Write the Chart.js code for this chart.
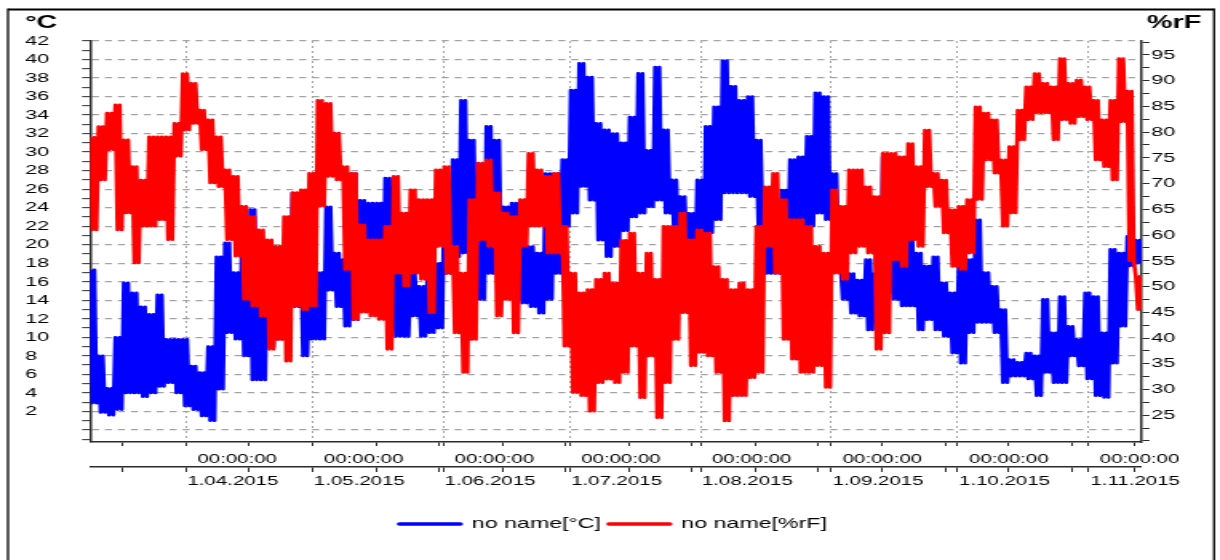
<!DOCTYPE html>
<html>
<head>
<meta charset="utf-8">
<title>no name [°C] / no name [%rF]</title>
<script src="https://cdn.jsdelivr.net/npm/chart.js@4.4.1/dist/chart.umd.min.js"></script>
<style>
  html, body { margin: 0; padding: 0; background: #ffffff; overflow: hidden; }
  #stage { width: 763px; height: 560px; transform: scaleX(1.598952); transform-origin: 0 0; }
  #chart { display: block; }
</style>
</head>
<body>
<div id="stage"><canvas id="chart" width="763" height="560"></canvas></div>
<script>
// Days are counted from 1 March 2015 (= day 0). Each value is the daily maximum /
// minimum for a 2-day block (both days of the block share it),
// block k starting at day blockStartDay + 2k.
const blockStartDay = 8;
const blockLength = 2;

const tempHigh = [
  17.3, 8.0, 4.5, 10.0, 15.9, 14.8, 13.3, 12.5, 14.6, 9.8,
  9.8, 9.8, 6.9, 6.2, 9.0, 18.7, 20.2, 17.0, 20.0, 23.8,
  13.3, 19.8, 19.1, 19.1, 25.6, 19.1, 16.2, 17.0, 24.1, 19.1,
  18.4, 27.7, 24.8, 24.5, 24.5, 27.2, 17.5, 16.9, 16.9, 15.5,
  16.9, 18.0, 26.3, 29.2, 35.6, 31.3, 20.5, 32.8, 31.3, 24.1,
  24.5, 19.8, 19.8, 19.1, 27.7, 27.7, 29.2, 36.7, 39.6, 38.1,
  33.1, 32.4, 32.0, 31.0, 33.8, 38.5, 30.2, 39.2, 32.4, 27.0,
  25.2, 23.4, 27.0, 32.8, 34.9, 39.9, 37.1, 35.6, 36.0, 31.3,
  22.0, 20.5, 25.9, 29.2, 29.5, 31.7, 36.4, 36.0, 27.7, 17.7,
  16.9, 16.2, 18.4, 16.9, 29.5, 19.5, 18.7, 20.5, 19.1, 17.7,
  18.7, 15.9, 14.8, 17.7, 18.4, 22.7, 17.0, 15.5, 13.0, 7.6,
  7.3, 8.3, 8.0, 14.1, 10.5, 14.4, 11.2, 9.8, 14.8, 14.4,
  10.5, 19.5, 19.1, 20.9, 20.5
];
const tempLow = [
  2.9, 1.9, 1.6, 2.2, 4.0, 4.0, 3.6, 4.0, 4.7, 5.1,
  4.0, 2.6, 2.2, 1.5, 1.0, 4.4, 10.5, 9.8, 8.0, 5.4,
  5.4, 9.0, 9.8, 12.3, 13.3, 8.0, 9.8, 9.8, 15.1, 13.3,
  11.2, 11.9, 14.0, 15.0, 14.0, 15.0, 10.1, 10.1, 12.3, 10.1,
  10.5, 11.0, 16.9, 18.7, 19.1, 16.2, 14.1, 16.9, 18.0, 16.9,
  14.1, 13.7, 13.3, 12.6, 14.1, 16.9, 22.0, 23.4, 26.3, 24.8,
  20.5, 18.7, 19.8, 21.5, 23.0, 23.4, 24.1, 24.8, 23.4, 21.3,
  19.1, 16.9, 17.3, 21.3, 22.7, 25.6, 25.6, 25.6, 25.2, 22.0,
  16.9, 16.9, 17.7, 20.5, 21.3, 22.0, 23.4, 22.7, 17.7, 14.1,
  12.6, 12.3, 10.8, 13.3, 14.8, 14.1, 13.4, 13.4, 10.8, 11.9,
  10.8, 10.1, 8.3, 7.2, 10.5, 11.6, 11.6, 10.5, 5.1, 5.8,
  5.8, 5.5, 3.7, 6.2, 5.1, 5.1, 8.0, 6.9, 5.5, 3.7,
  3.5, 7.2, 11.2, 17.7, 18.0
];
const humHigh = [
  79.0, 81.1, 83.7, 85.3, 78.5, 73.3, 70.7, 79.1, 79.1, 79.1,
  81.7, 91.4, 89.5, 84.3, 82.4, 79.1, 72.7, 71.4, 65.6, 63.6,
  61.0, 59.1, 57.8, 63.6, 68.2, 68.8, 72.0, 86.2, 85.6, 79.8,
  73.3, 72.0, 62.0, 59.1, 59.1, 61.7, 71.4, 64.3, 68.8, 66.9,
  66.9, 72.7, 73.3, 57.8, 52.6, 66.9, 74.0, 74.6, 68.2, 64.3,
  63.6, 66.9, 75.9, 72.7, 71.4, 72.0, 61.7, 52.6, 48.8, 49.4,
  51.4, 52.6, 50.7, 59.0, 60.4, 52.6, 56.5, 51.4, 61.7, 61.7,
  64.3, 59.1, 61.0, 60.4, 53.9, 51.4, 49.4, 50.7, 49.4, 61.7,
  69.4, 72.0, 66.9, 63.0, 63.0, 61.7, 57.8, 56.5, 68.8, 65.6,
  72.7, 72.7, 69.4, 67.5, 75.9, 75.9, 75.2, 77.8, 73.3, 80.4,
  72.0, 70.7, 64.9, 65.6, 66.9, 84.9, 83.7, 82.4, 74.6, 77.2,
  84.3, 88.8, 91.4, 89.5, 88.8, 94.3, 89.5, 90.1, 88.8, 86.2,
  82.4, 86.2, 94.3, 88.0, 52.0
];
const humLow = [
  61.0, 70.7, 76.6, 61.0, 64.3, 54.6, 61.7, 61.7, 63.0, 59.1,
  75.3, 80.4, 81.7, 76.6, 70.1, 69.4, 59.1, 55.9, 47.5, 46.2,
  44.3, 37.8, 39.7, 35.5, 46.2, 45.5, 46.2, 65.6, 71.4, 70.7,
  53.3, 43.6, 45.0, 44.3, 43.6, 37.8, 52.6, 50.1, 52.6, 51.4,
  44.9, 57.8, 52.6, 41.0, 33.3, 39.7, 59.1, 57.8, 44.3, 47.5,
  41.0, 57.8, 61.7, 61.7, 56.5, 56.5, 38.4, 29.4, 28.8, 25.8,
  31.3, 32.0, 31.3, 33.3, 38.4, 28.4, 36.5, 24.5, 31.3, 39.7,
  44.9, 34.6, 37.2, 36.5, 33.3, 23.9, 28.8, 28.8, 32.3, 33.3,
  57.8, 52.6, 39.7, 35.9, 33.3, 33.3, 34.6, 30.4, 52.6, 51.4,
  56.5, 57.8, 56.5, 37.8, 41.0, 55.2, 53.9, 59.1, 57.8, 69.4,
  65.6, 60.4, 53.9, 53.3, 56.5, 66.9, 74.6, 72.0, 61.7, 64.3,
  78.5, 82.4, 83.7, 83.7, 78.5, 82.4, 81.7, 83.0, 82.4, 74.6,
  73.3, 70.7, 82.0, 55.0, 45.5
];

const seriesNames = ['no name[°C]', 'no name[%rF]'];
const axisTitles = ['°C', '%rF'];

// x axis: month starts (labelled) and half-month ticks
const monthTickDays = [31, 61, 92, 122, 153, 184, 214, 245];
const monthDateLabels = ['1.04.2015', '1.05.2015', '1.06.2015', '1.07.2015',
                         '1.08.2015', '1.09.2015', '1.10.2015', '1.11.2015'];
const monthTimeLabel = '00:00:00';
const halfMonthTickDays = [16, 31, 46, 61, 76, 91, 106, 121, 136, 151, 166, 181, 196, 211, 226, 241, 256];
const xRange = [8.23, 257.6];

// y axes
const tempLabelValues = [2, 4, 6, 8, 10, 12, 14, 16, 18, 20, 22, 24, 26, 28, 30, 32, 34, 36, 38, 40, 42];
const humLabelValues = [25, 30, 35, 40, 45, 50, 55, 60, 65, 70, 75, 80, 85, 90, 95];
const tempRange = [-1.3, 42];
const humRange = [19.8, 97.7];

// ---------------------------------------------------------------
const FONT = '"Liberation Sans", Arial, Helvetica, sans-serif';
const BLUE = '#0000ff', RED = '#ff0000';
const AXIS = '#2b2b2b', GRID = '#a3a3a3';
const S = 1220 / 763;                 // horizontal stretch applied by CSS
const PAD = { left: 25 / S, right: 11.6, top: 41, bottom: 18.75 };
const Y_WIDTH = 90 / S - PAD.left;
const Y1_WIDTH = 763 - PAD.right - 1141.5 / S;

// one daily cycle (max, then min) for each day of each block
function blockPoints(high, low) {
  const pts = [];
  for (let k = 0; k < high.length; k++) {
    const d = blockStartDay + blockLength * k;
    for (let day = 0; day < blockLength; day++) {
      pts.push({ x: d + day + 0.25, y: high[k] });
      pts.push({ x: d + day + 0.75, y: low[k] });
    }
  }
  return pts;
}

const xTicks = Array.from(new Set(halfMonthTickDays.concat(monthTickDays))).sort((a, b) => a - b);
const isMonth = v => monthTickDays.indexOf(v) >= 0;
const tempTicks = [];
for (let v = -1; v <= 42; v++) tempTicks.push(v);
const humTicks = [];
for (let v = 20; v <= 97.5; v += 2.5) humTicks.push(v);

const framePlugin = {
  id: 'frameAndTitles',
  afterDraw(chart) {
    const ctx = chart.ctx;
    ctx.save();
    ctx.strokeStyle = '#000';
    ctx.lineWidth = 2;
    ctx.beginPath(); ctx.moveTo(8 / S, 9.5); ctx.lineTo(1214 / S, 9.5); ctx.stroke();
    ctx.lineWidth = 1.3;
    ctx.beginPath();
    ctx.moveTo(8 / S, 8.5); ctx.lineTo(8 / S, 560);
    ctx.moveTo(1214 / S, 8.5); ctx.lineTo(1214 / S, 560);
    ctx.stroke();
    ctx.fillStyle = '#000';
    ctx.font = 'bold 18px ' + FONT;
    ctx.textAlign = 'left';
    ctx.textBaseline = 'alphabetic';
    ctx.fillText(axisTitles[0], 25 / S, 27.5);
    ctx.fillText(axisTitles[1], 1147 / S, 28);
    ctx.restore();
  }
};

new Chart(document.getElementById('chart'), {
  type: 'line',
  data: {
    datasets: [
      { label: seriesNames[0], data: blockPoints(tempHigh, tempLow), yAxisID: 'y', xAxisID: 'x',
        borderColor: BLUE, backgroundColor: BLUE, borderWidth: 2.6, pointRadius: 0, tension: 0,
        borderJoinStyle: 'round', fill: false, order: 2 },
      { label: seriesNames[1], data: blockPoints(humHigh, humLow), yAxisID: 'y1', xAxisID: 'x',
        borderColor: RED, backgroundColor: RED, borderWidth: 2.6, pointRadius: 0, tension: 0,
        borderJoinStyle: 'round', fill: false, order: 1 }
    ]
  },
  options: {
    responsive: false,
    animation: false,
    events: [],
    layout: { padding: PAD },
    plugins: {
      tooltip: { enabled: false },
      title: { display: false },
      legend: {
        position: 'bottom',
        labels: {
          usePointStyle: true,
          pointStyle: 'line',
          pointStyleWidth: 38,
          padding: 5,
          color: '#000',
          font: { family: FONT, size: 14.5 },
          generateLabels: (chart) => chart.data.datasets.map((ds, i) => ({
            text: ds.label, fillStyle: ds.borderColor, strokeStyle: ds.borderColor,
            lineWidth: 3.5, lineCap: 'round', pointStyle: 'line', hidden: false,
            datasetIndex: i, fontColor: '#000'
          }))
        }
      }
    },
    scales: {
      x: {
        type: 'linear', position: 'bottom', weight: 0, bounds: 'data',
        min: xRange[0], max: xRange[1],
        afterBuildTicks: s => { s.ticks = xTicks.map(v => ({ value: v })); },
        afterFit: s => { s.height = 25; },
        ticks: {
          autoSkip: false, maxRotation: 0, minRotation: 0, labelOffset: 32.0, padding: 5.3,
          color: '#000', font: { family: FONT, size: 12.8 },
          callback: v => isMonth(v) ? monthTimeLabel : ''
        },
        grid: {
          color: c => (c.tick && isMonth(c.tick.value)) ? GRID : 'rgba(0,0,0,0)',
          lineWidth: 1, tickLength: 4, tickColor: AXIS, tickWidth: 1
        },
        border: { display: true, color: AXIS, width: 1.5, dash: [2, 3] }
      },
      x2: {
        type: 'linear', position: 'bottom', axis: 'x', weight: 1, bounds: 'data',
        min: xRange[0], max: xRange[1],
        afterBuildTicks: s => { s.ticks = xTicks.map(v => ({ value: v })); },
        afterFit: s => {
          const lg = s.chart.legend ? s.chart.legend.height : 29.5;
          s.height = Math.max(10, s.chart.height - PAD.bottom - lg - 442 - 25);
        },
        ticks: {
          autoSkip: false, maxRotation: 0, minRotation: 0, labelOffset: 29.3, padding: 1.3,
          color: '#000', font: { family: FONT, size: 12.8 },
          callback: v => isMonth(v) ? monthDateLabels[monthTickDays.indexOf(v)] : ''
        },
        grid: { drawOnChartArea: false, color: AXIS, tickLength: 5, tickColor: AXIS, tickWidth: 1 },
        border: { display: true, color: AXIS, width: 1.5 }
      },
      y: {
        type: 'linear', position: 'left', bounds: 'data',
        min: tempRange[0], max: tempRange[1],
        afterBuildTicks: s => { s.ticks = tempTicks.map(v => ({ value: v })); },
        afterFit: s => { s.width = Y_WIDTH; },
        ticks: {
          autoSkip: false, crossAlign: 'far', padding: 2, color: '#000',
          font: { family: FONT, size: 13.5 },
          callback: v => tempLabelValues.indexOf(v) >= 0 ? String(v) : ''
        },
        grid: {
          color: c => (c.tick && c.tick.value % 2 === 0) ? GRID : 'rgba(0,0,0,0)',
          lineWidth: 1.3, tickLength: 5, tickColor: AXIS, tickWidth: 1
        },
        border: { display: true, color: AXIS, width: 1.5, dash: [4.4, 3.7] }
      },
      y1: {
        type: 'linear', position: 'right', bounds: 'data',
        min: humRange[0], max: humRange[1],
        afterBuildTicks: s => { s.ticks = humTicks.map(v => ({ value: v })); },
        afterFit: s => { s.width = Y1_WIDTH; },
        ticks: {
          autoSkip: false, crossAlign: 'near', padding: 1, color: '#000',
          font: { family: FONT, size: 13.5 },
          callback: v => humLabelValues.indexOf(v) >= 0 ? String(v) : ''
        },
        grid: { drawOnChartArea: false, color: AXIS, tickLength: 5, tickColor: AXIS, tickWidth: 1 },
        border: { display: true, color: AXIS, width: 1.5 }
      }
    }
  },
  plugins: [framePlugin]
});
</script>
</body>
</html>
